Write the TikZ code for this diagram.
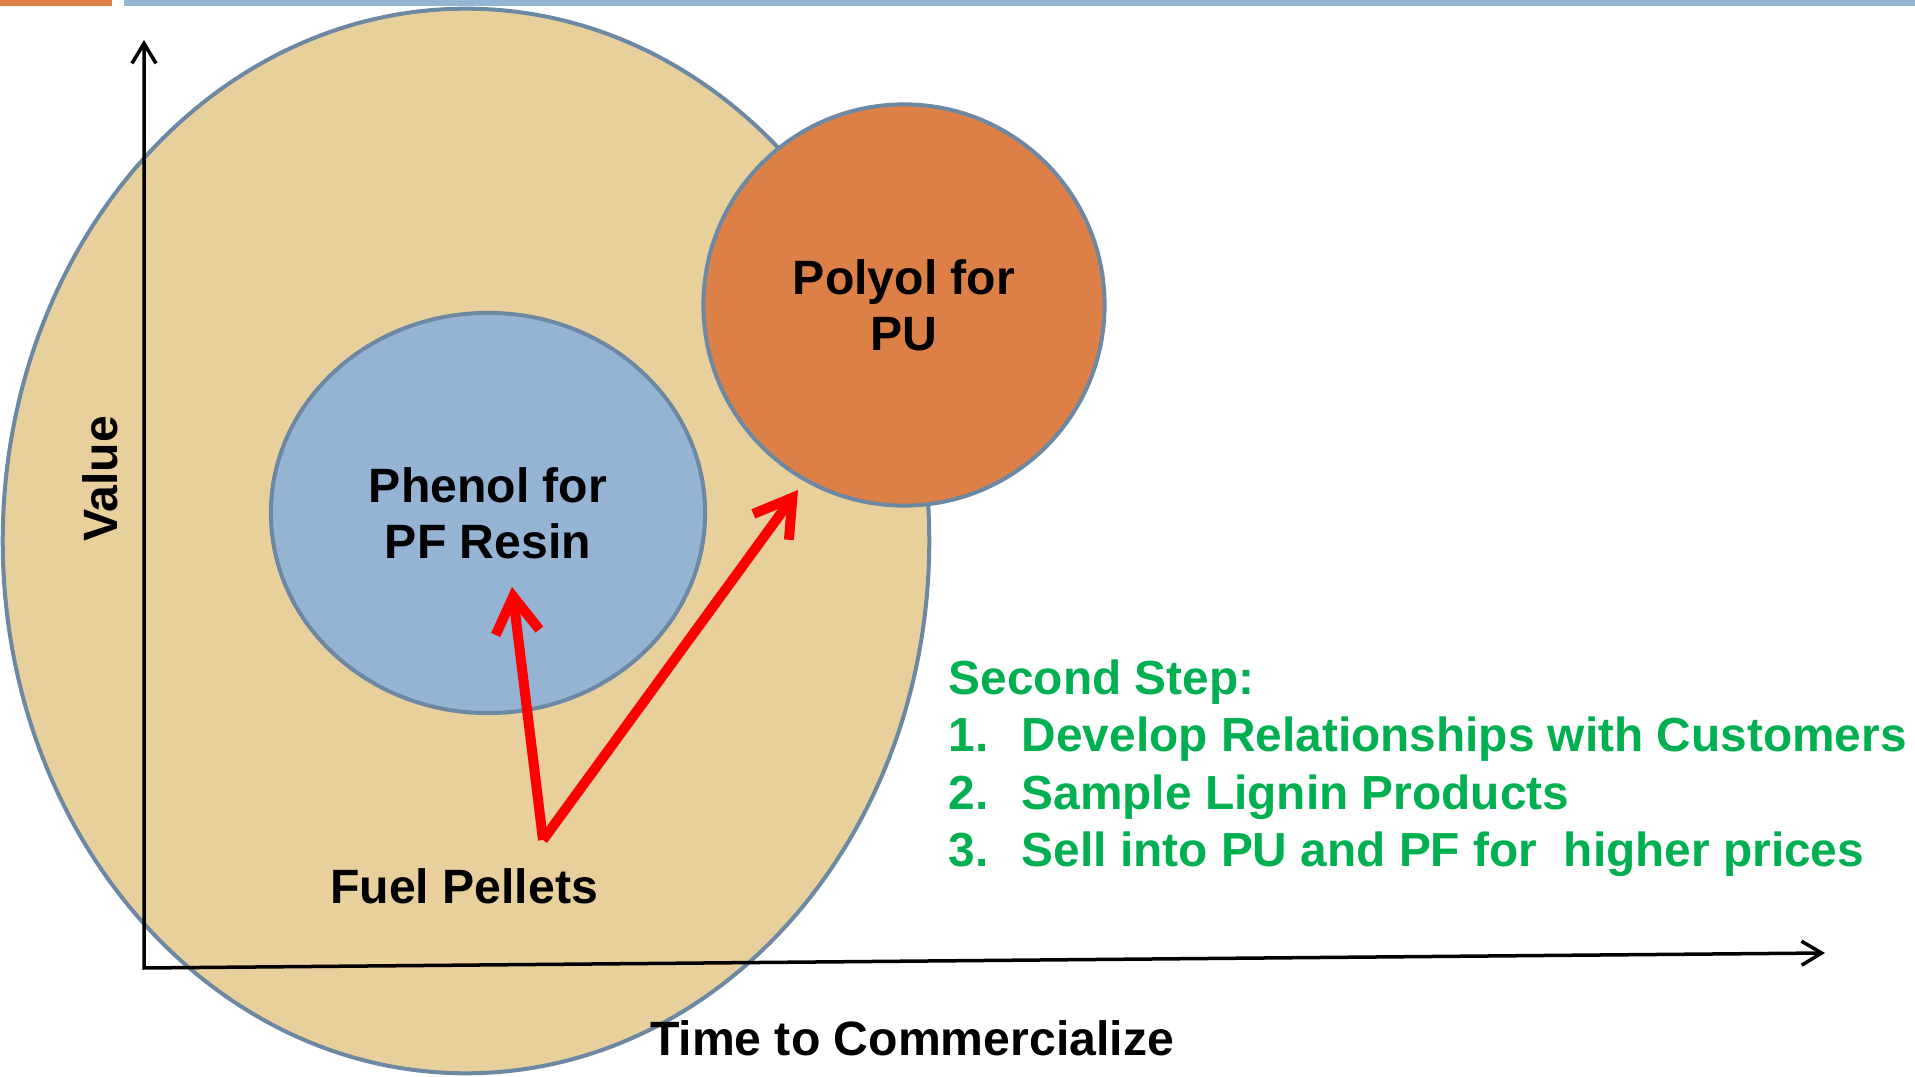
\documentclass[tikz,border=0pt]{standalone}
\usepackage{fontspec}
\setmainfont{Liberation Sans}
\usetikzlibrary{arrows.meta,shapes.geometric}

\definecolor{pelletfill}{HTML}{E8D09D}
\definecolor{resinfill}{HTML}{95B3D3}
\definecolor{polyolfill}{HTML}{DD8047}
\definecolor{rimgray}{HTML}{6C88A2}
\definecolor{stepgreen}{HTML}{00B050}
\definecolor{barblue}{HTML}{94B6D2}

\newcommand\slidefont{\fontsize{13.7}{16}\selectfont\bfseries}
\newcommand\listfont{\fontsize{13.6}{16}\selectfont\bfseries}

\begin{document}
\begin{tikzpicture}[x=0.01cm,y=-0.01cm,text centered,
    rim/.style={draw=rimgray,line width=0.04cm,inner sep=0},
    bigtext/.style={font=\slidefont,inner sep=0},
    greentext/.style={font=\listfont,inner sep=0,text=stepgreen,anchor=base west},
    axisline/.style={line width=0.035cm,line join=miter,
      {Straight Barb[length=0.2cm,width=0.24cm]}-{Straight Barb[length=0.2cm,width=0.24cm]}},
    jump/.style={red,line width=0.1cm,-{Straight Barb[length=0.36cm,width=0.44cm]}}]

\useasboundingbox (0,0) rectangle (1915,1077);

%% slide header bars
\fill[polyolfill] (0,0) rectangle (112,6);
\fill[barblue] (124,0) rectangle (1915,6);

%% markets, from the broad one up to the best one
\node (fuel) at (466,541) [ellipse,rim,fill=pelletfill,minimum width=9.26cm,minimum height=10.64cm] {};
\node (phenol) at (488,513) [ellipse,rim,fill=resinfill,minimum width=4.34cm,minimum height=4cm,
  bigtext,align=center] {Phenol for\\PF Resin};
\node (polyol) at (904,305) [circle,rim,fill=polyolfill,minimum size=4.01cm,
  bigtext,align=center] {Polyol for\\PU};

%% axes
\coordinate (vtop) at (144,40);
\coordinate (origin) at (144,968);
\coordinate (tend) at (1825,953);
\draw[axisline] (vtop) -- (origin) -- (tend);

\node (valuelabel) at (117,479) [bigtext,anchor=base,rotate=90] {Value};
\node (timelabel) at (912,1056) [bigtext,anchor=base] {Time to Commercialize};
\node (fuellabel) at (464,904) [bigtext,anchor=base] {Fuel Pellets};

%% moves out of fuel pellets
\coordinate (pellets) at (543,840);
\coordinate (resintip) at (512,587);
\coordinate (polyoltip) at (798,490);
\draw[jump] (pellets) -- (resintip);
\draw[jump] (pellets) -- (polyoltip);

%% second step list
\node (step0) at (948,695) [greentext] {Second Step:};
\node (step1) at (948,752) [greentext] {\makebox[0.73cm][l]{1.}Develop Relationships with Customers};
\node (step2) at (948,810) [greentext] {\makebox[0.73cm][l]{2.}Sample Lignin Products};
\node (step3) at (948,867) [greentext] {\makebox[0.73cm][l]{3.}Sell into PU and PF for\ \ higher prices};

\end{tikzpicture}
\end{document}
